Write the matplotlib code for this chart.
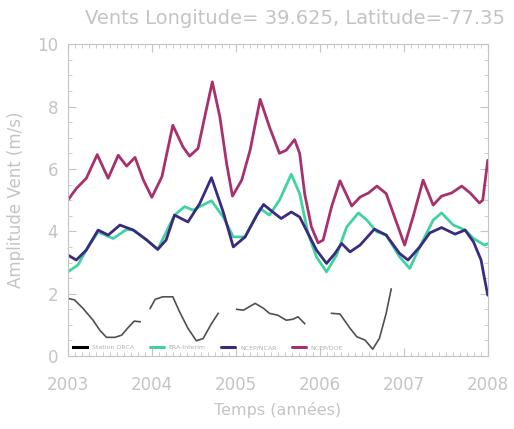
import numpy as np
import matplotlib
matplotlib.use("Agg")
import matplotlib.pyplot as plt
from matplotlib.ticker import MultipleLocator

# --- values ---
red_t = [2003.00, 2003.10, 2003.22, 2003.35, 2003.48, 2003.60, 2003.70, 2003.80, 2003.90, 2004.00,
         2004.12, 2004.25, 2004.37, 2004.45, 2004.55, 2004.63, 2004.72, 2004.81, 2004.89, 2004.96,
         2005.07, 2005.17, 2005.29, 2005.40, 2005.52, 2005.60, 2005.70, 2005.76, 2005.82, 2005.90,
         2005.98, 2006.04, 2006.14, 2006.24, 2006.32, 2006.38, 2006.48, 2006.58, 2006.68, 2006.79,
         2006.89, 2007.01, 2007.11, 2007.23, 2007.35, 2007.45, 2007.57, 2007.69, 2007.79, 2007.90,
         2007.94, 2008.00]
red_v = [5.0, 5.37, 5.7, 6.46, 5.7, 6.44, 6.09, 6.37, 5.64, 5.09,
         5.75, 7.40, 6.71, 6.41, 6.66, 7.67, 8.79, 7.67, 6.18, 5.13,
         5.64, 6.6, 8.23, 7.35, 6.5, 6.6, 6.94, 6.5, 5.2, 4.14,
         3.63, 3.72, 4.79, 5.62, 5.16, 4.81, 5.1, 5.23, 5.45, 5.21,
         4.46, 3.56, 4.46, 5.64, 4.84, 5.13, 5.23, 5.45, 5.23, 4.91,
         5.0, 6.28]

ncep_t = [2003.00, 2003.10, 2003.22, 2003.36, 2003.48, 2003.62, 2003.78, 2003.94, 2004.07, 2004.17,
          2004.27, 2004.43, 2004.57, 2004.71, 2004.85, 2004.97, 2005.11, 2005.25, 2005.33, 2005.44,
          2005.54, 2005.66, 2005.76, 2005.86, 2005.96, 2006.08, 2006.18, 2006.26, 2006.36, 2006.48,
          2006.65, 2006.79, 2006.95, 2007.05, 2007.19, 2007.31, 2007.45, 2007.61, 2007.73, 2007.83,
          2007.92, 2007.96, 2008.00]
ncep_v = [3.24, 3.08, 3.4, 4.04, 3.88, 4.2, 4.04, 3.72, 3.42, 3.72,
          4.52, 4.3, 4.89, 5.72, 4.62, 3.5, 3.82, 4.52, 4.86, 4.62,
          4.41, 4.62, 4.46, 3.93, 3.4, 2.97, 3.29, 3.61, 3.34, 3.56,
          4.07, 3.88, 3.29, 3.08, 3.5, 3.95, 4.12, 3.91, 4.04, 3.66,
          3.08, 2.5, 1.95]

era_t = [2003.00, 2003.12, 2003.24, 2003.36, 2003.54, 2003.70, 2003.78, 2003.94, 2004.07, 2004.27,
         2004.39, 2004.49, 2004.71, 2004.85, 2004.97, 2005.11, 2005.29, 2005.40, 2005.52, 2005.66,
         2005.76, 2005.86, 2005.96, 2006.08, 2006.20, 2006.32, 2006.46, 2006.56, 2006.68, 2006.79,
         2006.95, 2007.07, 2007.21, 2007.35, 2007.45, 2007.59, 2007.73, 2007.83, 2007.96, 2008.00]
era_v = [2.7, 2.92, 3.5, 3.98, 3.77, 4.06, 4.04, 3.72, 3.42, 4.52,
         4.79, 4.68, 4.98, 4.46, 3.82, 3.82, 4.73, 4.52, 5.0, 5.83,
         5.21, 3.93, 3.18, 2.7, 3.24, 4.14, 4.59, 4.36, 3.98, 3.88,
         3.18, 2.81, 3.61, 4.36, 4.59, 4.2, 4.04, 3.77, 3.56, 3.6]

# station record, four separate pieces
sta_t = [
    [2003.00, 2003.08, 2003.18, 2003.30, 2003.38, 2003.46, 2003.56, 2003.64, 2003.72, 2003.79, 2003.86],
    [2003.98, 2004.04, 2004.13, 2004.25, 2004.33, 2004.43, 2004.53, 2004.61, 2004.71, 2004.79],
    [2005.01, 2005.09, 2005.23, 2005.33, 2005.40, 2005.50, 2005.60, 2005.68, 2005.74, 2005.82],
    [2006.14, 2006.24, 2006.36, 2006.44, 2006.54, 2006.63, 2006.71, 2006.79, 2006.85],
]
sta_v = [
    [1.85, 1.8, 1.53, 1.15, 0.83, 0.6, 0.6, 0.67, 0.92, 1.12, 1.1],
    [1.53, 1.82, 1.9, 1.9, 1.42, 0.89, 0.49, 0.56, 1.04, 1.37],
    [1.5, 1.47, 1.69, 1.53, 1.37, 1.31, 1.15, 1.18, 1.26, 1.04],
    [1.37, 1.35, 0.89, 0.62, 0.51, 0.22, 0.57, 1.37, 2.15],
]

labels = ["Station ORCA", "ERA-Interim", "NCEP/NCAR", "NCEP/DOE"]
years = [2003, 2004, 2005, 2006, 2007, 2008]

grey = "#c4c4c4"
plt.rcParams["font.family"] = ["DejaVu Sans"]

fig = plt.figure(figsize=(5.14, 4.29), dpi=100)
ax = fig.add_axes([0.132, 0.170, 0.817, 0.727])

kw = dict(lw=2.0, solid_joinstyle="round", solid_capstyle="round")
for i, (t, v) in enumerate(zip(sta_t, sta_v)):
    ax.plot(t, v, color="#505050", lw=1.2, solid_joinstyle="round",
            label=labels[0] if i == 0 else None)
ax.plot(era_t, era_v, color="#3fd3a3", label=labels[1], **kw)
ax.plot(ncep_t, ncep_v, color="#3b2a80", label=labels[2], **kw)
ax.plot(red_t, red_v, color="#a8306c", label=labels[3], **kw)

ax.set_xlim(2003, 2008)
ax.set_ylim(0, 10)
ax.set_xticks(years)
ax.set_xticklabels([str(y) for y in years])
ax.set_yticks([0, 2, 4, 6, 8, 10])
ax.xaxis.set_minor_locator(MultipleLocator(1 / 12))
ax.yaxis.set_minor_locator(MultipleLocator(0.5))

for s in ax.spines.values():
    s.set_color(grey)
    s.set_linewidth(0.8)
ax.tick_params(which="both", direction="in", top=True, right=True,
               color=grey, labelcolor=grey)
ax.tick_params(which="major", length=6, labelsize=12)
ax.tick_params(which="minor", length=3)
ax.tick_params(axis="x", which="major", pad=14)
ax.tick_params(axis="y", which="major", pad=7)

ax.set_xlabel("Temps (années)", color=grey, fontsize=11.5, labelpad=6)
ax.set_ylabel("Amplitude Vent (m/s)", color=grey, fontsize=12, labelpad=9)
fig.text(0.574, 0.957, "Vents Longitude= 39.625, Latitude=-77.35",
         ha="center", va="center", color=grey, fontsize=14)

leg = ax.legend(loc="lower left", ncol=4, fontsize=4.5, frameon=False,
                handlelength=2.2, columnspacing=2.5, borderaxespad=0.5)
for txt in leg.get_texts():
    txt.set_color("#b0b0b0")
for line in leg.get_lines():
    line.set_linewidth(2.2)
leg.get_lines()[0].set_color("black")

fig.savefig("out.png", dpi=100)
